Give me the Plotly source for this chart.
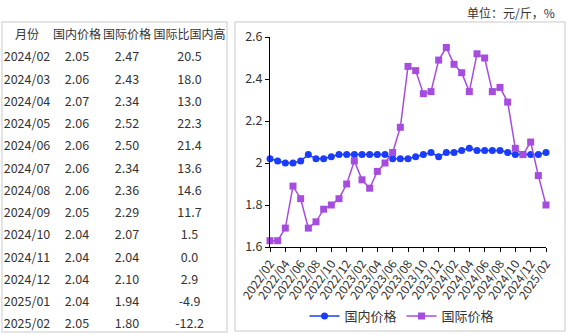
import plotly.graph_objects as go

months = [
    "2022/02", "2022/03", "2022/04", "2022/05", "2022/06", "2022/07", "2022/08", "2022/09",
    "2022/10", "2022/11", "2022/12", "2023/01", "2023/02", "2023/03", "2023/04", "2023/05",
    "2023/06", "2023/07", "2023/08", "2023/09", "2023/10", "2023/11", "2023/12", "2024/01",
    "2024/02", "2024/03", "2024/04", "2024/05", "2024/06", "2024/07", "2024/08", "2024/09",
    "2024/10", "2024/11", "2024/12", "2025/01", "2025/02",
]
domestic = [
    2.02, 2.01, 2.00, 2.00, 2.01, 2.04, 2.02, 2.02, 2.03, 2.04, 2.04, 2.04, 2.04, 2.04, 2.04, 2.04,
    2.02, 2.02, 2.02, 2.03, 2.04, 2.05, 2.03, 2.05, 2.05, 2.06, 2.07, 2.06, 2.06, 2.06, 2.06, 2.05,
    2.04, 2.04, 2.04, 2.04, 2.05,
]
international = [
    1.63, 1.63, 1.69, 1.89, 1.83, 1.69, 1.72, 1.78, 1.80, 1.83, 1.90, 2.01, 1.92, 1.88, 1.96, 2.00,
    2.05, 2.17, 2.46, 2.44, 2.33, 2.34, 2.49, 2.55, 2.47, 2.43, 2.34, 2.52, 2.50, 2.34, 2.36, 2.29,
    2.07, 2.04, 2.10, 1.94, 1.80,
]

table_header = ["月份", "国内价格", "国际价格", "国际比国内高"]
table_months = months[-13:]
table_domestic = domestic[-13:]
table_international = international[-13:]
table_premium = [20.5, 18.0, 13.0, 22.3, 21.4, 13.6, 14.6, 11.7, 1.5, 0.0, 2.9, -4.9, -12.2]

tick_labels = months[::2]

W, H = 569, 335
BLUE = "#1a3cff"
PURPLE = "#a64ddf"
TXT = "#333333"
FONT = "Noto Sans CJK SC"

fig = go.Figure()

fig.add_trace(go.Table(
    domain=dict(x=[2 / W, 227 / W], y=[0, 1 - 22 / H]),
    columnwidth=[50, 50, 50, 75],
    header=dict(
        values=table_header,
        fill_color="white",
        line_color="white",
        line_width=0,
        align="center",
        height=22,
        font=dict(family=FONT, size=12, color=TXT),
    ),
    cells=dict(
        values=[
            table_months,
            [f"{v:.2f}" for v in table_domestic],
            [f"{v:.2f}" for v in table_international],
            [f"{v:.1f}" for v in table_premium],
        ],
        fill_color="white",
        line_color="white",
        line_width=0,
        align="center",
        height=22.25,
        font=dict(family=FONT, size=12.5, color=TXT),
    ),
))

fig.add_trace(go.Scatter(
    x=months, y=domestic, name="国内价格", mode="lines+markers",
    line=dict(color=BLUE, width=1.5),
    marker=dict(symbol="circle", size=7, color=BLUE),
    cliponaxis=False,
))
fig.add_trace(go.Scatter(
    x=months, y=international, name="国际价格", mode="lines+markers",
    line=dict(color=PURPLE, width=1.5),
    marker=dict(symbol="square", size=7, color=PURPLE),
    cliponaxis=False,
))

box = "#dcdcdc"
shapes = [
    dict(type="rect", xref="paper", yref="paper", x0=2 / W, x1=227 / W, y0=1 - 332 / H, y1=1 - 22 / H,
         line=dict(color=box, width=1.5), fillcolor="rgba(0,0,0,0)", layer="above"),
    dict(type="rect", xref="paper", yref="paper", x0=235 / W, x1=565 / W, y0=1 - 331 / H, y1=1 - 22 / H,
         line=dict(color=box, width=1.5), fillcolor="rgba(0,0,0,0)", layer="above"),
]

fig.update_layout(
    width=W, height=H,
    margin=dict(l=0, r=0, t=0, b=0),
    paper_bgcolor="white", plot_bgcolor="white",
    font=dict(family=FONT, size=12, color=TXT),
    shapes=shapes,
    showlegend=True,
    legend=dict(orientation="h", x=402 / W, xanchor="center", y=1 - 316 / H, yanchor="middle",
                font=dict(family=FONT, size=13, color=TXT), bgcolor="rgba(0,0,0,0)"),
    annotations=[dict(text="单位：元/斤，%", xref="paper", yref="paper", x=557 / W, y=1 - 12 / H,
                      xanchor="right", yanchor="middle", showarrow=False,
                      font=dict(family=FONT, size=12, color=TXT))],
    xaxis=dict(
        domain=[270 / W, 546 / W], type="category", categoryorder="array", categoryarray=months,
        range=[0, len(months) - 1], tickmode="array", tickvals=tick_labels, ticktext=tick_labels,
        tickangle=-55, showline=True, linecolor="black", linewidth=1, ticks="outside", ticklen=4,
        tickcolor="black", showgrid=False, zeroline=False, automargin=False,
        tickfont=dict(family=FONT, size=12, color=TXT),
    ),
    yaxis=dict(
        domain=[1 - 247 / H, 1 - 37 / H], range=[1.6, 2.6], dtick=0.2, tick0=1.6,
        showline=True, linecolor="black", linewidth=1, ticks="outside", ticklen=4,
        tickcolor="black", showgrid=False, zeroline=False, automargin=False,
        tickfont=dict(family=FONT, size=12.5, color=TXT),
    ),
)

fig.write_html("out.html")
